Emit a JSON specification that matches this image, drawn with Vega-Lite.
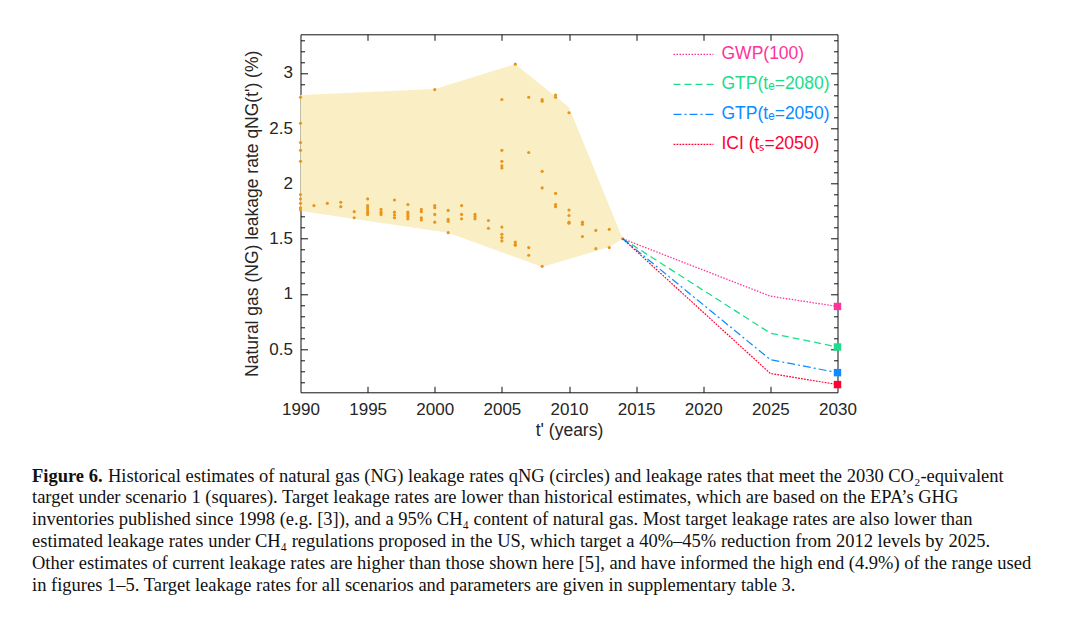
{
  "$schema": "https://vega.github.io/schema/vega-lite/v6.json",
  "width": 537,
  "height": 358,
  "autosize": {"type": "none"},
  "padding": {"left": 300.5, "top": 34.3, "right": 249.5, "bottom": 224.7},
  "background": "white",
  "config": {
    "font": "Liberation Sans",
    "view": {"stroke": "#111", "strokeWidth": 1},
    "axis": {
      "labelFont": "Liberation Sans", "labelFontSize": 17, "labelColor": "#262626",
      "titleFont": "Liberation Sans", "titleFontSize": 17.5, "titleFontWeight": "normal", "titleColor": "#262626",
      "domain": false, "tickColor": "#111", "tickWidth": 1, "grid": false, "labelFlush": false, "labelOverlap": false
    },
    "legend": {"labelFont": "Liberation Sans"}
  },
  "datasets": {
    "envelope": [
      {"v": 1, "year": 1990, "q": 2.80},
      {"v": 2, "year": 2000, "q": 2.855},
      {"v": 3, "year": 2006, "q": 3.08},
      {"v": 4, "year": 2010, "q": 2.69},
      {"v": 5, "year": 2014, "q": 1.50},
      {"v": 6, "year": 2013, "q": 1.424},
      {"v": 7, "year": 2008, "q": 1.244},
      {"v": 8, "year": 2001, "q": 1.555},
      {"v": 9, "year": 1990, "q": 1.75}
    ],
    "estimates": [
      {"year": 1990, "q": 2.78}, {"year": 1990, "q": 2.545}, {"year": 1990, "q": 2.37}, {"year": 1990, "q": 2.30}, {"year": 1990, "q": 2.20},
      {"year": 1990, "q": 1.90}, {"year": 1990, "q": 1.86}, {"year": 1990, "q": 1.82}, {"year": 1990, "q": 1.78}, {"year": 1990, "q": 1.76},
      {"year": 1991, "q": 1.80},
      {"year": 1992, "q": 1.82},
      {"year": 1993, "q": 1.83}, {"year": 1993, "q": 1.79},
      {"year": 1994, "q": 1.745}, {"year": 1994, "q": 1.69},
      {"year": 1995, "q": 1.86}, {"year": 1995, "q": 1.80}, {"year": 1995, "q": 1.78}, {"year": 1995, "q": 1.76}, {"year": 1995, "q": 1.74}, {"year": 1995, "q": 1.72},
      {"year": 1996, "q": 1.765}, {"year": 1996, "q": 1.74}, {"year": 1996, "q": 1.72},
      {"year": 1997, "q": 1.85}, {"year": 1997, "q": 1.74}, {"year": 1997, "q": 1.715}, {"year": 1997, "q": 1.69},
      {"year": 1998, "q": 1.81}, {"year": 1998, "q": 1.74}, {"year": 1998, "q": 1.72}, {"year": 1998, "q": 1.70}, {"year": 1998, "q": 1.68},
      {"year": 1999, "q": 1.765}, {"year": 1999, "q": 1.745}, {"year": 1999, "q": 1.69}, {"year": 1999, "q": 1.67},
      {"year": 2000, "q": 2.85}, {"year": 2000, "q": 1.80}, {"year": 2000, "q": 1.78}, {"year": 2000, "q": 1.72}, {"year": 2000, "q": 1.65},
      {"year": 2001, "q": 1.756}, {"year": 2001, "q": 1.675}, {"year": 2001, "q": 1.657}, {"year": 2001, "q": 1.555},
      {"year": 2002, "q": 1.80}, {"year": 2002, "q": 1.72}, {"year": 2002, "q": 1.68},
      {"year": 2003, "q": 1.72}, {"year": 2003, "q": 1.70}, {"year": 2003, "q": 1.68},
      {"year": 2004, "q": 1.665}, {"year": 2004, "q": 1.595},
      {"year": 2005, "q": 2.76}, {"year": 2005, "q": 2.30}, {"year": 2005, "q": 2.20}, {"year": 2005, "q": 2.16}, {"year": 2005, "q": 2.14},
      {"year": 2005, "q": 1.605}, {"year": 2005, "q": 1.54}, {"year": 2005, "q": 1.51}, {"year": 2005, "q": 1.48},
      {"year": 2006, "q": 3.08}, {"year": 2006, "q": 1.47}, {"year": 2006, "q": 1.45}, {"year": 2006, "q": 1.44},
      {"year": 2007, "q": 2.78}, {"year": 2007, "q": 2.28}, {"year": 2007, "q": 1.42}, {"year": 2007, "q": 1.35},
      {"year": 2008, "q": 2.76}, {"year": 2008, "q": 2.745}, {"year": 2008, "q": 2.11}, {"year": 2008, "q": 1.96}, {"year": 2008, "q": 1.25},
      {"year": 2009, "q": 2.80}, {"year": 2009, "q": 2.78}, {"year": 2009, "q": 1.91}, {"year": 2009, "q": 1.81}, {"year": 2009, "q": 1.79},
      {"year": 2010, "q": 2.64}, {"year": 2010, "q": 1.76}, {"year": 2010, "q": 1.71}, {"year": 2010, "q": 1.65}, {"year": 2010, "q": 1.64},
      {"year": 2011, "q": 1.65}, {"year": 2011, "q": 1.63}, {"year": 2011, "q": 1.52},
      {"year": 2012, "q": 1.575}, {"year": 2012, "q": 1.41},
      {"year": 2013, "q": 1.585}, {"year": 2013, "q": 1.42},
      {"year": 2014, "q": 1.50}
    ],
    "targets": [
      {"series": "GWP(100)", "year": 2014, "q": 1.5},
      {"series": "GWP(100)", "year": 2025, "q": 0.98},
      {"series": "GWP(100)", "year": 2030, "q": 0.887},
      {"series": "GTP(tₑ=2080)", "year": 2014, "q": 1.5},
      {"series": "GTP(tₑ=2080)", "year": 2025, "q": 0.645},
      {"series": "GTP(tₑ=2080)", "year": 2030, "q": 0.52},
      {"series": "GTP(tₑ=2050)", "year": 2014, "q": 1.5},
      {"series": "GTP(tₑ=2050)", "year": 2025, "q": 0.405},
      {"series": "GTP(tₑ=2050)", "year": 2030, "q": 0.288},
      {"series": "ICI (tₛ=2050)", "year": 2014, "q": 1.5},
      {"series": "ICI (tₛ=2050)", "year": 2025, "q": 0.28},
      {"series": "ICI (tₛ=2050)", "year": 2030, "q": 0.18}
    ],
    "caption": [
      {"line": 1, "part": "head", "text": "Figure 6."},
      {"line": 1, "part": "lead", "text": "Historical estimates of natural gas (NG) leakage rates qNG (circles) and leakage rates that meet the 2030 CO₂-equivalent"},
      {"line": 2, "part": "body", "text": "target under scenario 1 (squares). Target leakage rates are lower than historical estimates, which are based on the EPA’s GHG"},
      {"line": 3, "part": "body", "text": "inventories published since 1998 (e.g. [3]), and a 95% CH₄ content of natural gas. Most target leakage rates are also lower than"},
      {"line": 4, "part": "body", "text": "estimated leakage rates under CH₄ regulations proposed in the US, which target a 40%–45% reduction from 2012 levels by 2025."},
      {"line": 5, "part": "body", "text": "Other estimates of current leakage rates are higher than those shown here [5], and have informed the high end (4.9%) of the range used"},
      {"line": 6, "part": "body", "text": "in figures 1–5. Target leakage rates for all scenarios and parameters are given in supplementary table 3."}
    ]
  },
  "layer": [
    {
      "layer": [
        {
          "data": {"name": "envelope"},
          "mark": {"type": "line", "fill": "#faefc4", "strokeOpacity": 0, "strokeWidth": 0},
          "encoding": {
            "x": {"field": "year", "type": "quantitative",
              "scale": {"domain": [1990, 2030], "nice": false, "zero": false},
              "axis": {"orient": "bottom", "values": [1990, 1995, 2000, 2005, 2010, 2015, 2020, 2025, 2030], "format": "d", "ticks": false, "labelPadding": 9, "title": "t' (years)", "titlePadding": 4}},
            "y": {"field": "q", "type": "quantitative",
              "scale": {"domain": [0.11, 3.35], "nice": false, "zero": false},
              "axis": {"orient": "left", "values": [0.5, 1, 1.5, 2, 2.5, 3], "format": "~g", "ticks": false, "labelPadding": 8, "title": "Natural gas (NG) leakage rate qNG(t') (%)", "titlePadding": 7}},
            "order": {"field": "v", "type": "quantitative"}
          }
        },
        {
          "data": {"name": "estimates"},
          "mark": {"type": "circle", "size": 10, "color": "#e8951d", "opacity": 1},
          "encoding": {
            "x": {"field": "year", "type": "quantitative",
              "axis": {"orient": "bottom", "values": [1995, 2000, 2005, 2010, 2015, 2020, 2025], "labels": false, "offset": -6, "tickSize": 6, "title": null}},
            "y": {"field": "q", "type": "quantitative",
              "axis": {"orient": "left", "values": [0.5, 1, 1.5, 2, 2.5, 3], "labels": false, "offset": -7, "tickSize": 7, "title": null}}
          }
        },
        {
          "mark": {"type": "rule", "color": "#000", "strokeWidth": 1.1, "strokeDash": [7, 4]},
          "encoding": {"y": {"datum": 0.67, "type": "quantitative",
            "axis": {"orient": "left", "values": [0.2,0.3,0.4,0.6,0.7,0.8,0.9,1.1,1.2,1.3,1.4,1.6,1.7,1.8,1.9,2.1,2.2,2.3,2.4,2.6,2.7,2.8,2.9,3.1,3.2,3.3], "labels": false, "offset": -4, "tickSize": 4, "title": null}}}
        },
        {
          "data": {"name": "targets"},
          "mark": {"type": "line"},
          "encoding": {
            "x": {"field": "year", "type": "quantitative",
              "axis": {"orient": "top", "values": [1995, 2000, 2005, 2010, 2015, 2020, 2025], "labels": false, "offset": -6, "tickSize": 6, "title": null}},
            "y": {"field": "q", "type": "quantitative",
              "axis": {"orient": "right", "values": [0.5, 1, 1.5, 2, 2.5, 3], "labels": false, "offset": -7, "tickSize": 7, "title": null}},
            "color": {"field": "series", "type": "nominal",
              "scale": {"domain": ["GWP(100)", "GTP(tₑ=2080)", "GTP(tₑ=2050)", "ICI (tₛ=2050)"], "range": ["#ff3399", "#1ddc8a", "#0d8bff", "#ff0033"]},
              "legend": {"orient": "none", "legendX": 370, "legendY": -3, "title": null, "symbolType": "stroke", "symbolSize": 1600, "symbolStrokeWidth": 1.3,
                "labelFontSize": 17.5, "labelOffset": 7, "rowPadding": -16.7, "padding": 2,
                "encode": {"labels": {"update": {"fill": {"scale": "color", "field": "value"}}}}}},
            "strokeDash": {"field": "series", "type": "nominal",
              "scale": {"domain": ["GWP(100)", "GTP(tₑ=2080)", "GTP(tₑ=2050)", "ICI (tₛ=2050)"], "range": [[1.5, 1.5], [7, 4], [8, 3, 2, 3], [1.8, 1.2]]},
              "legend": {"orient": "none", "legendX": 370, "legendY": -3, "title": null}},
            "strokeWidth": {"field": "series", "type": "nominal",
              "scale": {"domain": ["GWP(100)", "GTP(tₑ=2080)", "GTP(tₑ=2050)", "ICI (tₛ=2050)"], "range": [1.3, 1.2, 1.2, 1.8]},
              "legend": null}
          }
        },
        {
          "data": {"name": "targets"},
          "transform": [{"filter": "datum.year === 2030"}],
          "mark": {"type": "square", "size": 55, "filled": true, "opacity": 1},
          "encoding": {
            "x": {"field": "year", "type": "quantitative", "axis": null},
            "y": {"field": "q", "type": "quantitative",
              "axis": {"orient": "right", "values": [0.2,0.3,0.4,0.6,0.7,0.8,0.9,1.1,1.2,1.3,1.4,1.6,1.7,1.8,1.9,2.1,2.2,2.3,2.4,2.6,2.7,2.8,2.9,3.1,3.2,3.3], "labels": false, "offset": -4, "tickSize": 4, "title": null}},
            "color": {"field": "series", "type": "nominal", "legend": null}
          }
        },
        {
          "mark": {"type": "text", "text": "Historical estimates (U.S. EPA)", "fontSize": 17.5, "color": "#f5a01a", "align": "left", "baseline": "middle"},
          "encoding": {
            "x": {"datum": 1991.95, "type": "quantitative", "axis": null},
            "y": {"datum": 2.505, "type": "quantitative", "axis": null}
          }
        },
        {
          "mark": {"type": "text", "text": "Methane target (2025)", "fontSize": 17.5, "color": "#111", "align": "left", "baseline": "middle"},
          "encoding": {
            "x": {"datum": 1991.6, "type": "quantitative", "axis": null},
            "y": {"datum": 0.867, "type": "quantitative", "axis": null}
          }
        }
      ],
      "resolve": {"axis": {"x": "independent", "y": "independent"}}
    },
    {
      "data": {"name": "caption"},
      "encoding": {
        "x": {"datum": 0, "type": "quantitative", "scale": {"domain": [0, 1], "range": [-268.5, 731.5]}, "axis": null},
        "y": {"field": "line", "type": "quantitative", "scale": {"domain": [1, 6], "range": [447.2, 556.2], "zero": false, "nice": false}, "axis": null},
        "text": {"field": "text"}
      },
      "layer": [
        {
          "transform": [{"filter": "datum.part === 'head'"}],
          "mark": {"type": "text", "font": "Liberation Serif", "fontSize": 18.5, "fontWeight": "bold", "align": "left", "baseline": "alphabetic", "color": "#111"}
        },
        {
          "transform": [{"filter": "datum.part === 'lead'"}],
          "mark": {"type": "text", "font": "Liberation Serif", "fontSize": 18.5, "align": "left", "baseline": "alphabetic", "color": "#111", "dx": 76}
        },
        {
          "transform": [{"filter": "datum.part === 'body'"}],
          "mark": {"type": "text", "font": "Liberation Serif", "fontSize": 18.5, "align": "left", "baseline": "alphabetic", "color": "#111"}
        }
      ]
    }
  ],
  "resolve": {"scale": {"x": "independent", "y": "independent"}}
}
